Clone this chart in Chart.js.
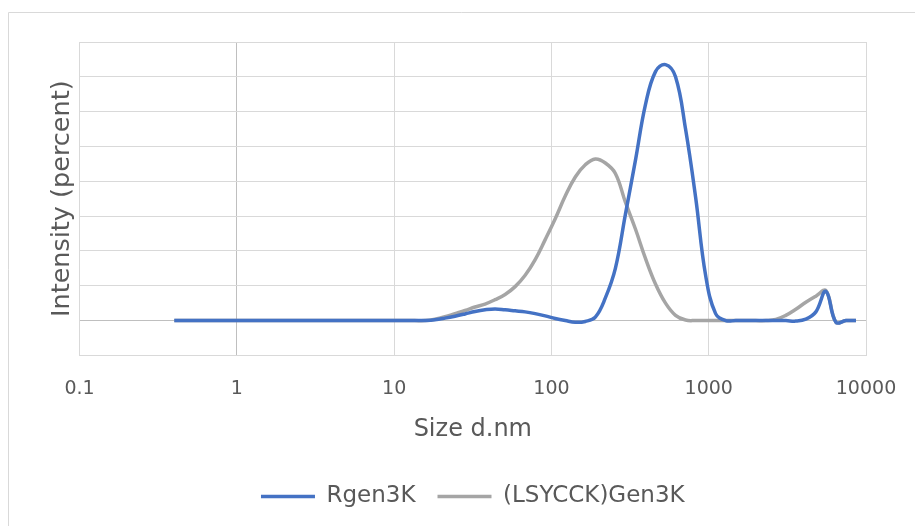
<!DOCTYPE html>
<html>
<head>
<meta charset="utf-8">
<script src="https://cdn.jsdelivr.net/npm/chart.js@4/dist/chart.umd.min.js"></script>
<style>
  html, body { margin: 0; padding: 0; background: #fff; }
  #wrap { width: 915px; height: 526px; position: relative; }
</style>
</head>
<body>
<div id="wrap"><canvas id="sizeChart"></canvas></div>
<script>
// size classes (d.nm)
const sizes = [0.4, 0.4632, 0.5365, 0.6213, 0.7195, 0.8332, 0.9649, 1.117, 1.294, 1.499,
  1.736, 2.01, 2.328, 2.696, 3.122, 3.615, 4.187, 4.849, 5.615, 6.503,
  7.531, 8.721, 10.1, 11.7, 13.54, 15.69, 18.17, 21.04, 24.36, 28.21,
  32.67, 37.84, 43.82, 50.75, 58.77, 68.06, 78.82, 91.28, 105.7, 122.4,
  141.8, 164.2, 190.1, 220.2, 255, 295.3, 342, 396.1, 458.7, 531.2,
  615.1, 712.4, 825, 955.4, 1106, 1281, 1484, 1718, 1990, 2305,
  2669, 3091, 3580, 4145, 4801, 5560, 6439, 7456, 8635];

const rgen3K = [0, 0, 0, 0, 0, 0, 0, 0, 0, 0,
  0, 0, 0, 0, 0, 0, 0, 0, 0, 0,
  0, 0, 0, 0, 0, 0.01, 0.05, 0.14, 0.25, 0.38,
  0.52, 0.62, 0.67, 0.62, 0.56, 0.5, 0.4, 0.27, 0.12, 0,
  -0.1, -0.05, 0.2, 1.3, 3.0, 6.1, 9.2, 12.4, 14.3, 14.7,
  14.0, 11.0, 7.1, 2.6, 0.4, 0, 0, 0, 0, 0,
  0, 0, -0.03, 0.08, 0.5, 1.68, -0.1, 0, 0];

const lsycckGen3K = [0, 0, 0, 0, 0, 0, 0, 0, 0, 0,
  0, 0, 0, 0, 0, 0, 0, 0, 0, 0,
  0, 0, 0, 0, 0, 0, 0.08, 0.22, 0.4, 0.58,
  0.78, 0.95, 1.2, 1.5, 1.95, 2.6, 3.5, 4.65, 5.85, 7.15,
  8.25, 8.95, 9.28, 9.05, 8.45, 6.8, 5.26, 3.57, 2.1, 1.0,
  0.3, 0.03, 0, 0, 0, 0, 0, 0, 0, 0,
  0.06, 0.3, 0.65, 1.05, 1.4, 1.72, -0.1, 0, 0];

const xTicks = [0.1, 1, 10, 100, 1000, 10000];

const textColor = '#595959';
const gridColor = '#d9d9d9';
const axisColor = '#bfbfbf';
const font = "'DejaVu Sans', sans-serif";

const frame = {
  id: 'frame',
  beforeDraw(chart) {
    const c = chart.ctx;
    c.save();
    c.strokeStyle = gridColor;
    c.lineWidth = 1;
    c.beginPath();
    c.moveTo(8.5, chart.height);
    c.lineTo(8.5, 12.5);
    c.lineTo(chart.width, 12.5);
    c.stroke();
    c.restore();
  }
};

const ctx = document.getElementById('sizeChart').getContext('2d');
const chart = new Chart(ctx, {
  type: 'line',
  data: {
    datasets: [{
      label: 'Rgen3K',
      data: sizes.map((s, i) => ({ x: s, y: rgen3K[i] })),
      borderColor: '#4472c4',
      backgroundColor: '#4472c4',
      borderWidth: 3.5,
      pointRadius: 0,
      tension: 0.4
    }, {
      label: '(LSYCCK)Gen3K',
      data: sizes.map((s, i) => ({ x: s, y: lsycckGen3K[i] })),
      borderColor: '#a5a5a5',
      backgroundColor: '#a5a5a5',
      borderWidth: 3.5,
      pointRadius: 0,
      tension: 0.4
    }]
  },
  options: {
    responsive: true,
    maintainAspectRatio: false,
    animation: false,
    layout: {
      padding: { left: 47, right: 49, top: 42, bottom: 8 }
    },
    scales: {
      x: {
        type: 'logarithmic',
        min: 0.1,
        max: 10000,
        afterBuildTicks: (scale) => {
          scale.ticks = xTicks.map(v => ({ value: v }));
        },
        grid: {
          drawTicks: true,
          tickLength: 18,
          tickColor: 'rgba(0,0,0,0)',
          color: (c) => (c.tick && c.tick.value === 1 ? axisColor : gridColor)
        },
        border: { color: gridColor },
        ticks: {
          padding: 4,
          color: textColor,
          font: { family: font, size: 19 },
          maxRotation: 0,
          autoSkip: false,
          callback: (v) => String(v)
        },
        title: {
          display: true,
          text: 'Size d.nm',
          color: textColor,
          font: { family: font, size: 24 },
          padding: { top: 11, bottom: 19 }
        }
      },
      y: {
        min: -2,
        max: 16,
        ticks: { display: false, stepSize: 2 },
        grid: {
          drawTicks: false,
          color: (c) => (c.tick && c.tick.value === 0 ? axisColor : gridColor)
        },
        border: { color: gridColor },
        title: {
          display: true,
          text: 'Intensity (percent)',
          color: textColor,
          font: { family: font, size: 25.5 },
          padding: { top: 0, bottom: 2 }
        }
      }
    },
    plugins: {
      legend: {
        position: 'bottom',
        fullSize: false,
        labels: {
          color: textColor,
          font: { family: font, size: 23 },
          usePointStyle: true,
          pointStyle: 'line',
          pointStyleWidth: 54,
          boxHeight: 4,
          padding: 22
        }
      },
      tooltip: { enabled: false }
    }
  },
  plugins: [frame]
});
</script>
</body>
</html>
